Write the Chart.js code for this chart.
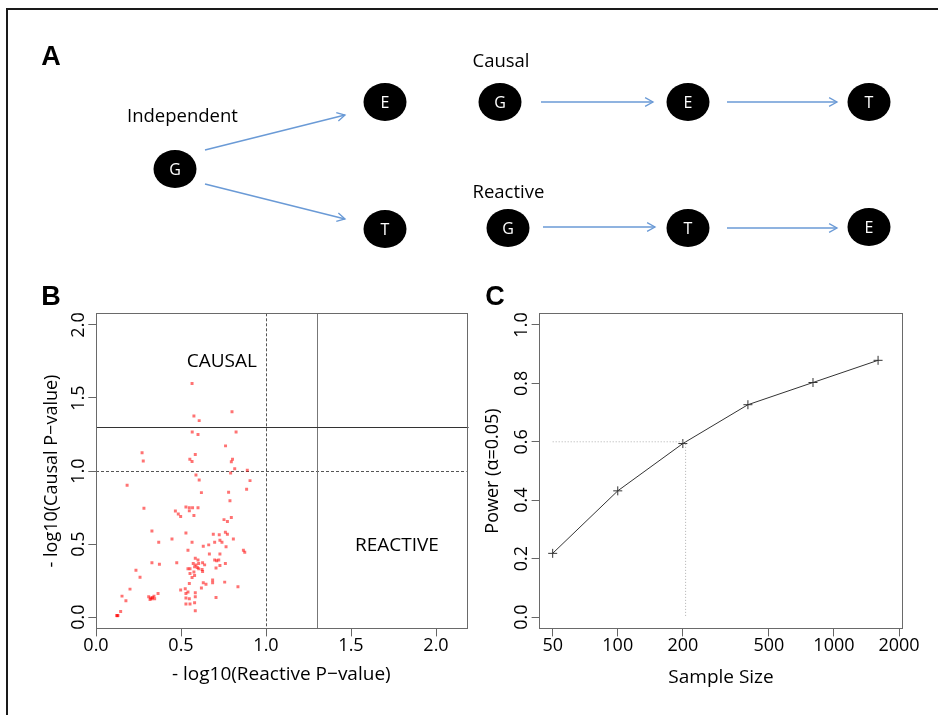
<!DOCTYPE html>
<html><head><meta charset="utf-8">
<script src="https://cdn.jsdelivr.net/npm/chart.js@4.4.1/dist/chart.umd.min.js"></script>
<style>
html,body{margin:0;padding:0;background:#fff;}
#wrap{position:relative;width:938px;height:715px;overflow:hidden;background:#fff;}
canvas{position:absolute;}
#frame{position:absolute;left:6px;top:8px;width:950px;height:720px;border-top:2px solid #1a1a1a;border-left:2px solid #1a1a1a;pointer-events:none;}
.plab{position:absolute;font-family:'Liberation Sans',Arial,sans-serif;font-weight:bold;font-size:27px;line-height:1;transform:translate(-50%,-50%);color:#000;}
</style></head>
<body><div id="wrap">
<canvas id="ca" width="938" height="280" style="left:0;top:0"></canvas>
<canvas id="cb" width="480" height="435" style="left:0;top:280px"></canvas>
<canvas id="cc" width="458" height="435" style="left:480px;top:280px"></canvas>
<div id="frame"></div>
<div class="plab" style="left:51px;top:56px">A</div>
<div class="plab" style="left:51px;top:296px">B</div>
<div class="plab" style="left:495px;top:296px">C</div>
</div>
<script>
// ---------- Panel A: model diagram ----------
const nodeLabels = ['G','E','T','G','E','T','G','T','E'];
const nodeX = [175,385,385,500,688,869,508,688,869];
const nodeY = [169,102,229,102,102,102,228,228,227];
const edgeX1 = [205,205,541,727,543,727];
const edgeY1 = [150,184,102,102,227,228];
const edgeX2 = [345,345,653,837,655,837];
const edgeY2 = [115,219,102,102,227,228];
const modelNames = ['Independent','Causal','Reactive'];
const modelX = [127,472.5,472.5];
const modelY = [117,62,193];

// ---------- Panel B: scatter ----------
const reactiveP = [0.565,0.800,0.576,0.607,0.566,0.600,0.824,0.271,0.278,0.762,0.584,0.552,0.565,0.803,0.796,0.816,0.890,0.792,0.588,0.607,0.906,0.183,0.886,0.620,0.780,0.788,
0.282,0.529,0.549,0.568,0.600,0.549,0.467,0.484,0.498,0.576,0.753,0.773,0.796,0.329,0.529,0.761,0.773,0.690,0.725,0.447,0.729,0.741,0.808,0.698,0.369,0.565,
0.631,0.663,0.765,0.867,0.875,0.541,0.667,0.729,
0.584,0.600,0.572,0.588,0.604,0.627,0.639,0.580,0.596,0.604,0.541,0.553,0.624,0.627,0.576,0.553,0.580,0.565,
0.698,0.710,0.722,0.761,0.729,0.706,0.329,0.373,0.475,0.235,0.259,
0.686,0.686,0.631,0.647,0.757,0.549,0.835,0.620,0.200,0.498,0.525,
0.529,0.541,0.584,0.365,0.153,0.176,0.310,0.322,0.333,0.341,0.318,0.329,0.345,
0.529,0.584,0.706,0.549,0.529,0.553,0.580,0.584,0.145,0.122,0.129,0.125];
const causalP = [1.599,1.406,1.376,1.345,1.267,1.250,1.267,1.125,1.069,1.172,1.113,1.081,1.065,1.081,1.064,1.016,1.005,0.987,0.972,0.939,0.934,0.902,0.875,0.852,0.854,0.797,
0.745,0.753,0.749,0.749,0.749,0.727,0.726,0.705,0.689,0.695,0.667,0.654,0.681,0.589,0.576,0.581,0.567,0.567,0.563,0.535,0.526,0.512,0.535,0.512,0.512,0.512,
0.485,0.494,0.481,0.458,0.444,0.458,0.431,0.431,
0.403,0.390,0.366,0.357,0.366,0.371,0.357,0.344,0.339,0.330,0.330,0.330,0.326,0.312,0.308,0.298,0.284,0.271,
0.390,0.385,0.390,0.366,0.353,0.335,0.371,0.362,0.371,0.321,0.273,
0.253,0.234,0.234,0.225,0.239,0.230,0.207,0.198,0.191,0.185,0.193,
0.161,0.171,0.166,0.161,0.143,0.111,0.139,0.130,0.134,0.143,0.120,0.125,0.125,
0.130,0.139,0.134,0.125,0.089,0.089,0.098,0.043,0.038,0.011,0.011,0.009];
const bTicks = [0, 0.5, 1.0, 1.5, 2.0];
const dashedThreshold = 1.0;
const solidThreshold = 1.3;
const quadLabels = ['CAUSAL','REACTIVE'];
const quadX = [0.74, 1.77];
const quadY = [1.75, 0.49];

// ---------- Panel C: power curve ----------
const sampleSize = [50,100,200,400,800,1600];
const power = [0.218,0.432,0.594,0.727,0.803,0.879];
const sampleTicks = [50,100,200,500,1000,2000];
const powerTicks = [0,0.2,0.4,0.6,0.8,1.0];
const targetPower = 0.6;
const targetN = 206;

const FONT = "'Open Sans', 'Noto Sans', sans-serif";
Chart.defaults.font.family = FONT;
Chart.defaults.color = '#000';

// ---------- shared plugins ----------
const boxPlugin = {
  id: 'box',
  afterDraw(chart) {
    const a = chart.chartArea, ctx = chart.ctx;
    ctx.save();
    ctx.strokeStyle = '#6a6a6a'; ctx.lineWidth = 1;
    ctx.strokeRect(Math.round(a.left) + 0.5, Math.round(a.top) + 0.5, Math.round(a.right - a.left), Math.round(a.bottom - a.top));
    ctx.restore();
  }
};
function rotYTicks(labelX) {
  return {
    id: 'rotY',
    afterDraw(chart) {
      const y = chart.scales.y, ctx = chart.ctx;
      ctx.save();
      ctx.font = "18px " + FONT; ctx.fillStyle = '#000';
      ctx.textAlign = 'center'; ctx.textBaseline = 'middle';
      y.ticks.forEach(t => {
        const p = y.getPixelForValue(t.value);
        ctx.save(); ctx.translate(labelX, p); ctx.rotate(-Math.PI / 2);
        ctx.fillText(Number(t.value).toFixed(1), 0, 0);
        ctx.restore();
      });
      ctx.restore();
    }
  };
}

// ---------- Panel A chart ----------
const ell = document.createElement('canvas');
ell.width = 44; ell.height = 40;
(function(){ const c = ell.getContext('2d'); c.fillStyle = '#000'; c.beginPath(); c.ellipse(22, 20, 21.5, 19, 0, 0, Math.PI * 2); c.fill(); })();

const edgeSets = edgeX1.map((x1, i) => ({
  data: [{x: x1, y: edgeY1[i]}, {x: edgeX2[i], y: edgeY2[i]}],
  showLine: true, borderColor: '#6a9ad6', borderWidth: 1.3, pointRadius: 0, pointHoverRadius: 0, arrow: true
}));
const arrowPlugin = {
  id: 'arrows',
  afterDatasetsDraw(chart) {
    const ctx = chart.ctx;
    chart.data.datasets.forEach((ds, i) => {
      if (!ds.arrow) return;
      const pts = chart.getDatasetMeta(i).data;
      const p0 = pts[0], p1 = pts[1];
      const ang = Math.atan2(p1.y - p0.y, p1.x - p0.x);
      const L = 9, w = 0.5;
      ctx.save(); ctx.strokeStyle = ds.borderColor; ctx.lineWidth = 1.3;
      ctx.beginPath();
      ctx.moveTo(p1.x - L * Math.cos(ang - w), p1.y - L * Math.sin(ang - w));
      ctx.lineTo(p1.x, p1.y);
      ctx.lineTo(p1.x - L * Math.cos(ang + w), p1.y - L * Math.sin(ang + w));
      ctx.stroke(); ctx.restore();
    });
  }
};
const nodeTextPlugin = {
  id: 'nodeText',
  afterDatasetsDraw(chart) {
    const ctx = chart.ctx;
    const idx = chart.data.datasets.findIndex(d => d.isNodes);
    const pts = chart.getDatasetMeta(idx).data;
    ctx.save(); ctx.fillStyle = '#fff'; ctx.font = "16px " + FONT;
    ctx.textAlign = 'center'; ctx.textBaseline = 'middle';
    pts.forEach((p, i) => ctx.fillText(nodeLabels[i], p.x, p.y + 1));
    const sx = chart.scales.x, sy = chart.scales.y;
    ctx.fillStyle = '#000'; ctx.font = "18.5px " + FONT; ctx.textAlign = 'left';
    modelNames.forEach((t, i) => ctx.fillText(t, sx.getPixelForValue(modelX[i]), sy.getPixelForValue(modelY[i])));
    ctx.restore();
  }
};
new Chart(document.getElementById('ca'), {
  type: 'scatter',
  data: { datasets: [...edgeSets, {
    isNodes: true,
    data: nodeX.map((x, i) => ({x, y: nodeY[i]})),
    pointStyle: ell, pointRadius: 20, pointHoverRadius: 20
  }]},
  options: {
    responsive: false, animation: false, devicePixelRatio: 1, events: [],
    layout: { padding: 0, autoPadding: false },
    plugins: { legend: { display: false }, tooltip: { enabled: false } },
    scales: {
      x: { display: false, min: 0, max: 938 },
      y: { display: false, min: 0, max: 280, reverse: true }
    }
  },
  plugins: [arrowPlugin, nodeTextPlugin]
});

// ---------- Panel B chart ----------
const threshPlugin = {
  id: 'thresh',
  beforeDatasetsDraw(chart) {
    const {ctx, chartArea: a, scales: {x, y}} = chart;
    ctx.save();
    ctx.lineWidth = 1;
    ctx.setLineDash([3, 2]); ctx.strokeStyle = '#555';
    let px = Math.round(x.getPixelForValue(dashedThreshold)) + 0.5;
    let py = Math.round(y.getPixelForValue(dashedThreshold)) + 0.5;
    ctx.beginPath(); ctx.moveTo(px, a.top); ctx.lineTo(px, a.bottom); ctx.stroke();
    ctx.beginPath(); ctx.moveTo(a.left, py); ctx.lineTo(a.right, py); ctx.stroke();
    ctx.setLineDash([]);
    px = Math.round(x.getPixelForValue(solidThreshold)) + 0.5;
    py = Math.round(y.getPixelForValue(solidThreshold)) + 0.5;
    ctx.strokeStyle = '#777';
    ctx.beginPath(); ctx.moveTo(px, a.top); ctx.lineTo(px, a.bottom); ctx.stroke();
    ctx.strokeStyle = '#333';
    ctx.beginPath(); ctx.moveTo(a.left, py); ctx.lineTo(a.right + 2, py); ctx.stroke();
    ctx.fillStyle = '#000'; ctx.font = "19px " + FONT;
    ctx.textAlign = 'center'; ctx.textBaseline = 'middle';
    quadLabels.forEach((t, i) => ctx.fillText(t, x.getPixelForValue(quadX[i]), y.getPixelForValue(quadY[i])));
    ctx.restore();
  }
};
new Chart(document.getElementById('cb'), {
  type: 'scatter',
  data: { datasets: [{
    data: reactiveP.map((x, i) => ({x, y: causalP[i]})),
    pointStyle: 'rect', pointRadius: 2.1, pointHoverRadius: 2.1,
    backgroundColor: 'rgba(255,0,0,0.55)', borderWidth: 0
  }]},
  options: {
    responsive: false, animation: false, devicePixelRatio: 1, events: [],
    layout: { padding: { left: 0, top: 33.3, right: 13.4, bottom: 0 }, autoPadding: false },
    plugins: { legend: { display: false }, tooltip: { enabled: false } },
    scales: {
      x: {
        type: 'linear', min: 0, max: 2.18,
        afterBuildTicks: s => { s.ticks = bTicks.map(v => ({value: v})); },
        afterFit: s => { s.height = 86.3; },
        ticks: { callback: v => Number(v).toFixed(1), font: { size: 18, lineHeight: 1.1 }, color: '#000', padding: 0, maxRotation: 0, autoSkip: false },
        grid: { drawOnChartArea: false, drawTicks: true, tickLength: 7.7, color: '#666' },
        border: { display: false },
        title: { display: true, text: '- log10(Reactive P\u2212value)', font: { size: 19, lineHeight: 1.2 }, color: '#000', padding: { top: 0, bottom: 28.6 } }
      },
      y: {
        type: 'linear', min: -0.08, max: 2.08,
        afterBuildTicks: s => { s.ticks = bTicks.map(v => ({value: v})); },
        afterFit: s => { s.width = 96; },
        ticks: { display: false },
        grid: { drawOnChartArea: false, drawTicks: true, tickLength: 7.7, color: '#666' },
        border: { display: false },
        title: { display: true, text: '- log10(Causal P\u2212value)', font: { size: 18, lineHeight: 1.2 }, color: '#000', padding: { top: 40.9, bottom: 0 } }
      }
    }
  },
  plugins: [threshPlugin, boxPlugin, rotYTicks(79.3)]
});

// ---------- Panel C chart ----------
new Chart(document.getElementById('cc'), {
  type: 'scatter',
  data: { datasets: [
    {
      data: [{x: sampleSize[0], y: targetPower}, {x: targetN, y: targetPower}, {x: targetN, y: 0}],
      showLine: true, borderColor: '#b0b0b0', borderWidth: 1, borderDash: [1, 2], pointRadius: 0, pointHoverRadius: 0
    },
    {
      data: sampleSize.map((x, i) => ({x, y: power[i]})),
      showLine: true, borderColor: '#333', borderWidth: 1,
      pointStyle: 'cross', pointRadius: 4.5, pointHoverRadius: 4.5, pointBorderColor: '#333', pointBorderWidth: 1
    }
  ]},
  options: {
    responsive: false, animation: false, devicePixelRatio: 1, events: [],
    layout: { padding: { left: 0, top: 33.3, right: 35.3, bottom: 0 }, autoPadding: false },
    plugins: { legend: { display: false }, tooltip: { enabled: false } },
    scales: {
      x: {
        type: 'logarithmic', min: 43.36, max: 2080,
        afterBuildTicks: s => { s.ticks = sampleTicks.map(v => ({value: v})); },
        afterFit: s => { s.height = 86.3; },
        ticks: { callback: v => String(v), font: { size: 18, lineHeight: 1.1 }, color: '#000', padding: 0, maxRotation: 0, autoSkip: false },
        grid: { drawOnChartArea: false, drawTicks: true, tickLength: 7.7, color: '#666' },
        border: { display: false },
        title: { display: true, text: 'Sample Size', font: { size: 19, lineHeight: 1.2 }, color: '#000', padding: { top: 0, bottom: 26.3 } }
      },
      y: {
        type: 'linear', min: -0.04, max: 1.04,
        afterBuildTicks: s => { s.ticks = powerTicks.map(v => ({value: v})); },
        afterFit: s => { s.width = 59.3; },
        ticks: { display: false },
        grid: { drawOnChartArea: false, drawTicks: true, tickLength: 7.7, color: '#666' },
        border: { display: false },
        title: { display: true, text: 'Power (\u03b1=0.05)', font: { size: 18, lineHeight: 1.2 }, color: '#000', padding: { top: 1.9, bottom: 0 } }
      }
    }
  },
  plugins: [boxPlugin, rotYTicks(41.7)]
});
</script>
</body></html>
